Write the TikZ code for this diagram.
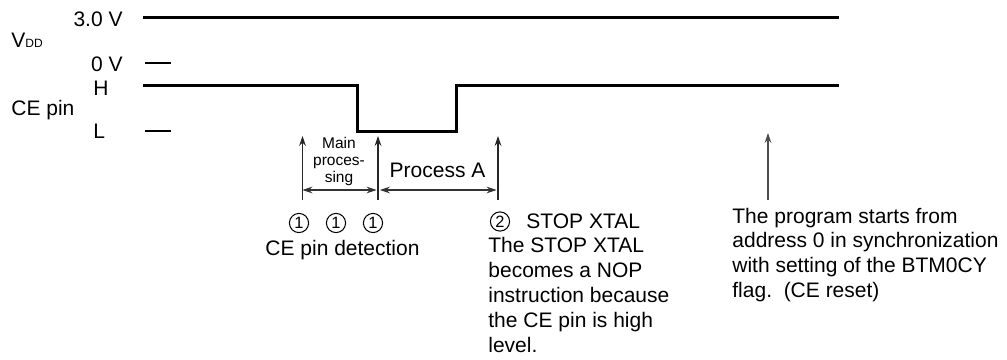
\documentclass[tikz,border=0pt]{standalone}
\usepackage{fontspec}
\setmainfont{Liberation Sans}
\usetikzlibrary{arrows.meta}
\begin{document}
\begin{tikzpicture}[x=0.5pt,y=-0.5pt,
  lbl/.style={inner sep=0pt,font=\fontsize{10.5}{12.4}\selectfont},
  small/.style={inner sep=0pt,font=\fontsize{7.75}{8.5}\selectfont},
  level/.style={line width=1.5pt},
  tick/.style={line width=0.8pt},
  marker/.style={line width=0.55pt,draw=black!85,-{Stealth[length=5pt,width=3.4pt]}},
  span/.style={line width=0.55pt,draw=black!80,{Stealth[length=5pt,width=3.4pt]}-{Stealth[length=5pt,width=3.4pt]}},
  circ/.style={circle,draw,line width=0.5pt,inner sep=0pt,minimum size=9.6pt,font=\fontsize{8.2}{8.2}\selectfont}]
\useasboundingbox (0,0) rectangle (1007,359);
% labels on the left
\node[lbl,anchor=base east] (v3) at (123,26) {3.0 V};
\node[lbl,anchor=base west] (vdd) at (11,47) {V{\fontsize{6}{6}\selectfont DD}};
\node[lbl,anchor=base east] (v0) at (123,71.5) {0 V};
\node[lbl,anchor=base west] (hl) at (93,95) {H};
\node[lbl,anchor=base west] (cep) at (11,115) {CE pin};
\node[lbl,anchor=base west] (ll) at (93,138) {L};
% VDD levels
\coordinate (vs) at (143,17); \coordinate (ve) at (839,17);
\draw[level] (vs) -- (ve);
\coordinate (zs) at (145,63); \coordinate (ze) at (171,63);
\draw[tick] (zs) -- (ze);
% CE pin waveform
\coordinate (w0) at (143,85); \coordinate (w1) at (357,85);
\coordinate (w2) at (357,131); \coordinate (w3) at (456,131);
\coordinate (w4) at (456,85); \coordinate (w5) at (839,85);
\draw[level] (w0) -- (w1) -- (w2) -- (w3) -- (w4) -- (w5);
\coordinate (ls) at (145,131); \coordinate (le) at (171,131);
\draw[tick] (ls) -- (le);
% detection arrows
\coordinate (a1b) at (302.5,200); \coordinate (a1t) at (302.5,136);
\coordinate (a2b) at (378,200); \coordinate (a2t) at (378,136);
\coordinate (a3b) at (498,200); \coordinate (a3t) at (498,136);
\draw[marker] (a1b) -- (a1t);
\draw[marker] (a2b) -- (a2t);
\draw[marker] (a3b) -- (a3t);
\coordinate (s1a) at (302.5,190); \coordinate (s1b) at (376.5,190);
\coordinate (s2a) at (380,190); \coordinate (s2b) at (496.5,190);
\draw[span] (s1a) -- (s1b);
\draw[span] (s2a) -- (s2b);
\node[small,align=center,anchor=base] (mp) at (339,182) {Main\\proces-\\sing};
\node[lbl,anchor=base] (pa) at (437.5,177) {Process A};
% reset arrow
\coordinate (rb) at (768,200); \coordinate (rt) at (768,133);
\draw[marker,draw=black!70] (rb) -- (rt);
% circled numbers
\node[circ] (c1) at (299,223) {1};
\node[circ] (c2) at (336,223) {1};
\node[circ] (c3) at (373,223) {1};
\node[lbl,anchor=base] (ced) at (342.5,255) {CE pin detection};
\node[circ] (c4) at (500,221.5) {2};
\node[lbl,anchor=base west] (sx) at (526,228) {STOP XTAL};
\node[lbl,align=left,anchor=base west] (sxt) at (488,352) {The STOP XTAL\\becomes a NOP\\instruction because\\the CE pin is high\\level.};
\node[lbl,align=left,anchor=base west] (prg) at (732,297.4) {The program starts from\\address 0 in synchronization\\with setting of the BTM0CY\\flag.\ \ (CE reset)};
\end{tikzpicture}
\end{document}
